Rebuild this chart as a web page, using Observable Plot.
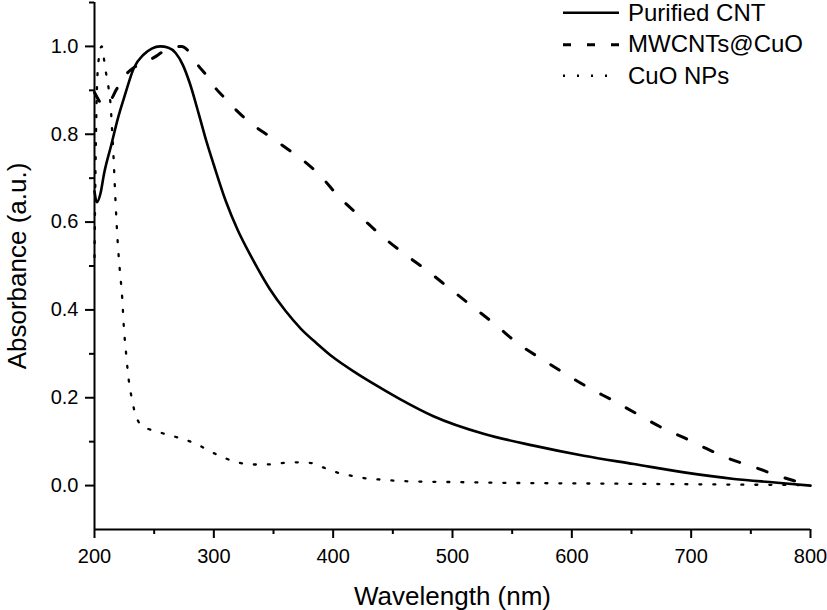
<!DOCTYPE html>
<html>
<head>
<meta charset="utf-8">
<script src="https://cdn.jsdelivr.net/npm/d3@7"></script>
<script src="https://cdn.jsdelivr.net/npm/@observablehq/plot@0.6"></script>
<style>
  html, body { margin: 0; padding: 0; background: #fff; }
  #wrap { position: relative; width: 827px; height: 610px; font-family: "Liberation Sans", Arial, sans-serif; }
  #legend { position: absolute; left: 560px; top: -3px; }
  .row { display: flex; align-items: center; height: 31.5px; font-size: 24px; line-height: 1; color: #000; }
  .row span { line-height: 1; }
  .row svg { width: 62px; height: 31.5px; margin-right: 6px; }
</style>
</head>
<body>
<div id="wrap"></div>
<script>
// ---- data ----
const seriesNames = ["Purified CNT", "MWCNTs@CuO", "CuO NPs"];

const cntWavelength = [200,202,205,208,214,220,225,233,241,248,255,262,268,274,280,287,294,300,310,320,331,347,360,373,387,400,420,440,456,484,526,568,610,652,694,736,770,800];
const cntAbsorbance = [0.67,0.645,0.665,0.71,0.775,0.84,0.885,0.951,0.981,0.995,1.0,0.997,0.985,0.958,0.915,0.85,0.782,0.73,0.648,0.582,0.523,0.447,0.398,0.357,0.322,0.292,0.255,0.222,0.197,0.158,0.118,0.091,0.068,0.049,0.030,0.015,0.007,0.0];

const mwWavelength = [200,203,206,209,213,218,224,232,241,250,258,267,273,280,286,295,300,310,318,331,349,368,375,388,405,425,444,460,479,498,518,537,555,576,596,614,635,654,674,694,713,732,752,772,790,800];
const mwAbsorbance = [0.895,0.88,0.868,0.865,0.875,0.9,0.928,0.95,0.962,0.975,0.989,0.998,1.0,0.985,0.96,0.93,0.91,0.88,0.857,0.825,0.791,0.754,0.74,0.709,0.657,0.607,0.561,0.527,0.489,0.448,0.405,0.364,0.323,0.286,0.252,0.223,0.193,0.164,0.134,0.109,0.084,0.061,0.043,0.023,0.008,0.0];

const cuoWavelength = [200,201,202,203.5,206,209,211.8,213.4,214.8,216,217.6,219.5,221.2,223.2,224.6,226.5,229,231,233.5,238.5,244,250,261,273,285,297,308,320,332,344,356,368,380,391,403,414,426,438,460,500,550,600,650,700,750,800];
const cuoAbsorbance = [0.52,0.75,0.9,0.97,1.0,0.95,0.905,0.87,0.807,0.745,0.648,0.552,0.491,0.428,0.361,0.30,0.234,0.202,0.17,0.139,0.13,0.125,0.116,0.107,0.095,0.078,0.064,0.053,0.048,0.048,0.051,0.053,0.052,0.042,0.030,0.023,0.017,0.014,0.01,0.008,0.006,0.005,0.004,0.003,0.002,0.001];

const xDomain = [200, 800];
const yDomain = [-0.1, 1.1];
const xMajorTicks = [200, 300, 400, 500, 600, 700, 800];
const xMinorTicks = [250, 350, 450, 550, 650, 750];
const yMajorTicks = [0.0, 0.2, 0.4, 0.6, 0.8, 1.0];
const yMinorTicks = [0.1, 0.3, 0.5, 0.7, 0.9, 1.1];

const xLabel = "Wavelength (nm)";
const yLabel = "Absorbance (a.u.)";

// ---- build ----
const zip = (xs, ys) => xs.map((x, i) => ({x, y: ys[i]}));
const cnt = zip(cntWavelength, cntAbsorbance);
const mw = zip(mwWavelength, mwAbsorbance);
const cuo = zip(cuoWavelength, cuoAbsorbance);

const chart = Plot.plot({
  width: 827,
  height: 610,
  marginLeft: 94,
  marginRight: 17,
  marginTop: 2,
  marginBottom: 81,
  style: {fontFamily: '"Liberation Sans", Arial, sans-serif', fontSize: "20px", color: "#000", background: "#fff", overflow: "visible"},
  x: {domain: xDomain},
  y: {domain: yDomain},
  marks: [
    Plot.axisX({ticks: xMajorTicks, tickSize: 9, tickPadding: 10, strokeWidth: 2, fontSize: 20, label: xLabel, labelAnchor: "center", labelArrow: "none", labelOffset: 75}),
    Plot.axisX({ticks: xMinorTicks, tickSize: 5, strokeWidth: 2, text: null, label: null}),
    Plot.axisY({ticks: yMajorTicks, tickSize: 9, tickPadding: 7, strokeWidth: 2, fontSize: 20, tickFormat: d3.format(".1f"), label: yLabel, labelAnchor: "center", labelArrow: "none", labelOffset: 87}),
    Plot.axisY({ticks: yMinorTicks, tickSize: 5, strokeWidth: 2, text: null, label: null}),
    Plot.ruleX([xDomain[0]], {strokeWidth: 2}),
    Plot.ruleY([yDomain[0]], {strokeWidth: 2}),
    Plot.line(cuo, {x: "x", y: "y", stroke: "#000", strokeWidth: 2.3, strokeDasharray: "2,12", curve: "monotone-x"}),
    Plot.line(mw, {x: "x", y: "y", stroke: "#000", strokeWidth: 3, strokeDasharray: "10,19", curve: "monotone-x"}),
    Plot.line(cnt, {x: "x", y: "y", stroke: "#000", strokeWidth: 2.6, curve: "monotone-x"})
  ]
});
chart.querySelectorAll("[aria-label$='axis label'] text").forEach(t => t.setAttribute("font-size", "26"));

const wrap = document.getElementById("wrap");
wrap.appendChild(chart);

// legend
const legendStyles = [
  {dash: null, width: 2.6},
  {dash: "8,16", width: 3},
  {dash: "2,12", width: 2.3}
];
const legend = document.createElement("div");
legend.id = "legend";
seriesNames.forEach((name, i) => {
  const row = document.createElement("div");
  row.className = "row";
  const s = legendStyles[i];
  row.innerHTML = `<svg viewBox="0 0 62 31.5"><line x1="3" x2="59" y1="15.75" y2="15.75" stroke="#000" stroke-width="${s.width}" ${s.dash ? `stroke-dasharray="${s.dash}"` : ""}/></svg><span>${name}</span>`;
  legend.appendChild(row);
});
wrap.appendChild(legend);
</script>
</body>
</html>
